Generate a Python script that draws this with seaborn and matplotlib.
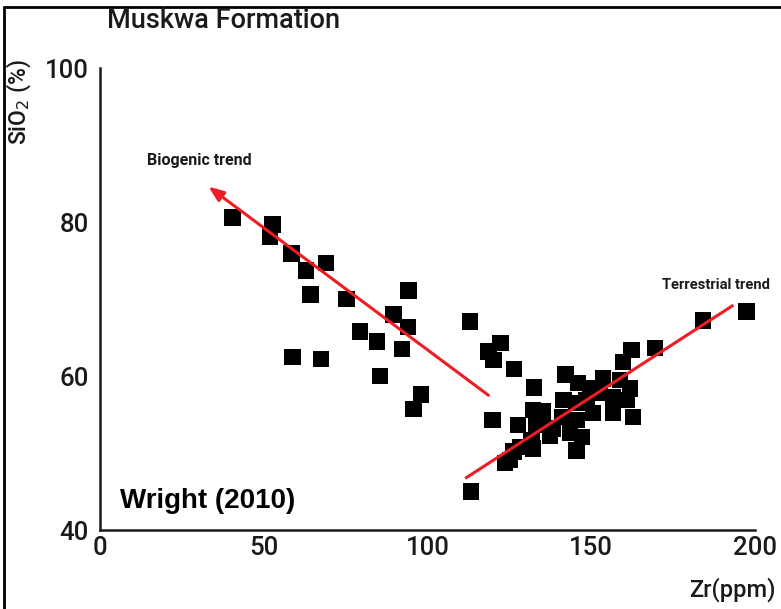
import matplotlib
matplotlib.use("Agg")
import matplotlib.pyplot as plt
from matplotlib.lines import Line2D
import seaborn as sns
import pandas as pd

# Zr (ppm) and SiO2 (%) for Muskwa Formation samples
zr = [40.4, 52.7, 51.9, 58.5, 69.0, 62.9, 64.3, 75.3, 94.2, 89.6, 94.1, 79.4,
      84.6, 92.2, 58.8, 67.5, 85.5, 98.1, 95.7,
      113.0, 122.3, 118.6, 120.1, 126.4, 132.6, 119.9, 113.2,
      142.1, 146.0, 149.6, 153.6, 158.8, 161.8, 159.7, 162.3, 169.5,
      152.7, 156.7, 160.8, 141.5, 145.5, 148.6, 156.7, 162.8, 132.3, 135.3, 150.6,
      127.7, 133.3, 138.4, 141.0, 145.5, 143.5, 137.4, 147.1, 131.8, 128.2, 126.2,
      132.3, 145.5, 123.7, 125.2,
      184.2, 197.4]
sio2 = [80.6, 79.7, 78.1, 75.9, 74.7, 73.7, 70.6, 70.0, 71.1, 68.0, 66.4, 65.8,
        64.5, 63.5, 62.5, 62.2, 60.0, 57.6, 55.7,
        67.1, 64.3, 63.2, 62.1, 60.9, 58.5, 54.3, 45.0,
        60.2, 59.1, 58.4, 59.7, 59.5, 58.4, 61.8, 63.4, 63.6,
        57.8, 57.3, 56.9, 56.9, 56.5, 56.9, 55.2, 54.7, 55.6, 55.4, 55.2,
        53.6, 53.6, 53.2, 54.7, 54.3, 52.6, 52.3, 52.1, 51.7, 50.8, 50.2,
        50.6, 50.3, 48.7, 49.1,
        67.2, 68.4]

# Trend lines (start -> end)
biogenic_zr = [118.6, 33.1]
biogenic_si = [57.5, 84.6]
terrestrial_zr = [111.5, 193.4]
terrestrial_si = [46.7, 69.2]

x_ticks = [0, 50, 100, 150, 200]
y_ticks = [40, 60, 80, 100]

df = pd.DataFrame({"Zr": zr, "SiO2": sio2})

sns.set_style("white")
plt.rcParams["font.family"] = ["Roboto", "DejaVu Sans"]
plt.rcParams["font.weight"] = "medium"
ink = "#1a1a1a"

fig = plt.figure(figsize=(7.81, 6.09), dpi=100)
ax = fig.add_axes([100 / 781, 1 - 530 / 609, 655 / 781, 462 / 609])

sns.scatterplot(data=df, x="Zr", y="SiO2", ax=ax, marker="s", s=140,
                color="black", edgecolor="none", zorder=3)

red = "#ee1c24"
ax.plot(terrestrial_zr, terrestrial_si, color=red, lw=2.2, zorder=4,
        solid_capstyle="butt")
ax.annotate("", xy=(biogenic_zr[1], biogenic_si[1]),
            xytext=(biogenic_zr[0], biogenic_si[0]),
            arrowprops=dict(arrowstyle="-|>,head_length=0.9,head_width=0.35",
                            color=red, lw=2.2, shrinkA=0, shrinkB=0),
            zorder=4)

ax.set_xlim(0, 200)
ax.set_ylim(40, 100)
ax.set_xticks(x_ticks)
ax.set_yticks(y_ticks)
ax.set_xlabel("")
ax.set_ylabel("")
ax.tick_params(direction="in", length=11, width=1.6, colors=ink,
               labelsize=18.5, labelcolor=ink)
ax.tick_params(axis="x", pad=4)
ax.tick_params(axis="y", pad=8)
for side in ("top", "right"):
    ax.spines[side].set_visible(False)
for side in ("left", "bottom"):
    ax.spines[side].set_linewidth(1.8)
    ax.spines[side].set_color(ink)

ax.text(14.5, 88.0, "Biogenic trend", fontsize=11.5, fontweight="bold",
        color=ink, ha="left", va="center")
ax.text(171.5, 71.8, "Terrestrial trend", fontsize=10.6, fontweight="bold",
        color=ink, ha="left", va="center", clip_on=False)
ax.text(6, 43.8, "Wright (2010)", fontsize=20, fontweight="bold",
        family="Liberation Sans", color="black", ha="left", va="center")

fig.text(224 / 781, 1 - 21 / 609, "Muskwa Formation", fontsize=19.5,
         color=ink, ha="center", va="center")
fig.text(19 / 781, 1 - 102 / 609, "SiO$_2$ (%)", fontsize=16.5, rotation=90,
         color=ink, ha="center", va="center")
fig.text(776 / 781, 1 - 590 / 609, "Zr(ppm)", fontsize=17,
         color=ink, ha="right", va="center")

# frame lines along the top and left of the figure
fig.add_artist(Line2D([4 / 781, 4 / 781], [0, 1 - 7 / 609],
                      transform=fig.transFigure, color="black", lw=2))
fig.add_artist(Line2D([4 / 781, 1], [1 - 7 / 609, 1 - 7 / 609],
                      transform=fig.transFigure, color="black", lw=2))

fig.savefig("out.png", dpi=100)
